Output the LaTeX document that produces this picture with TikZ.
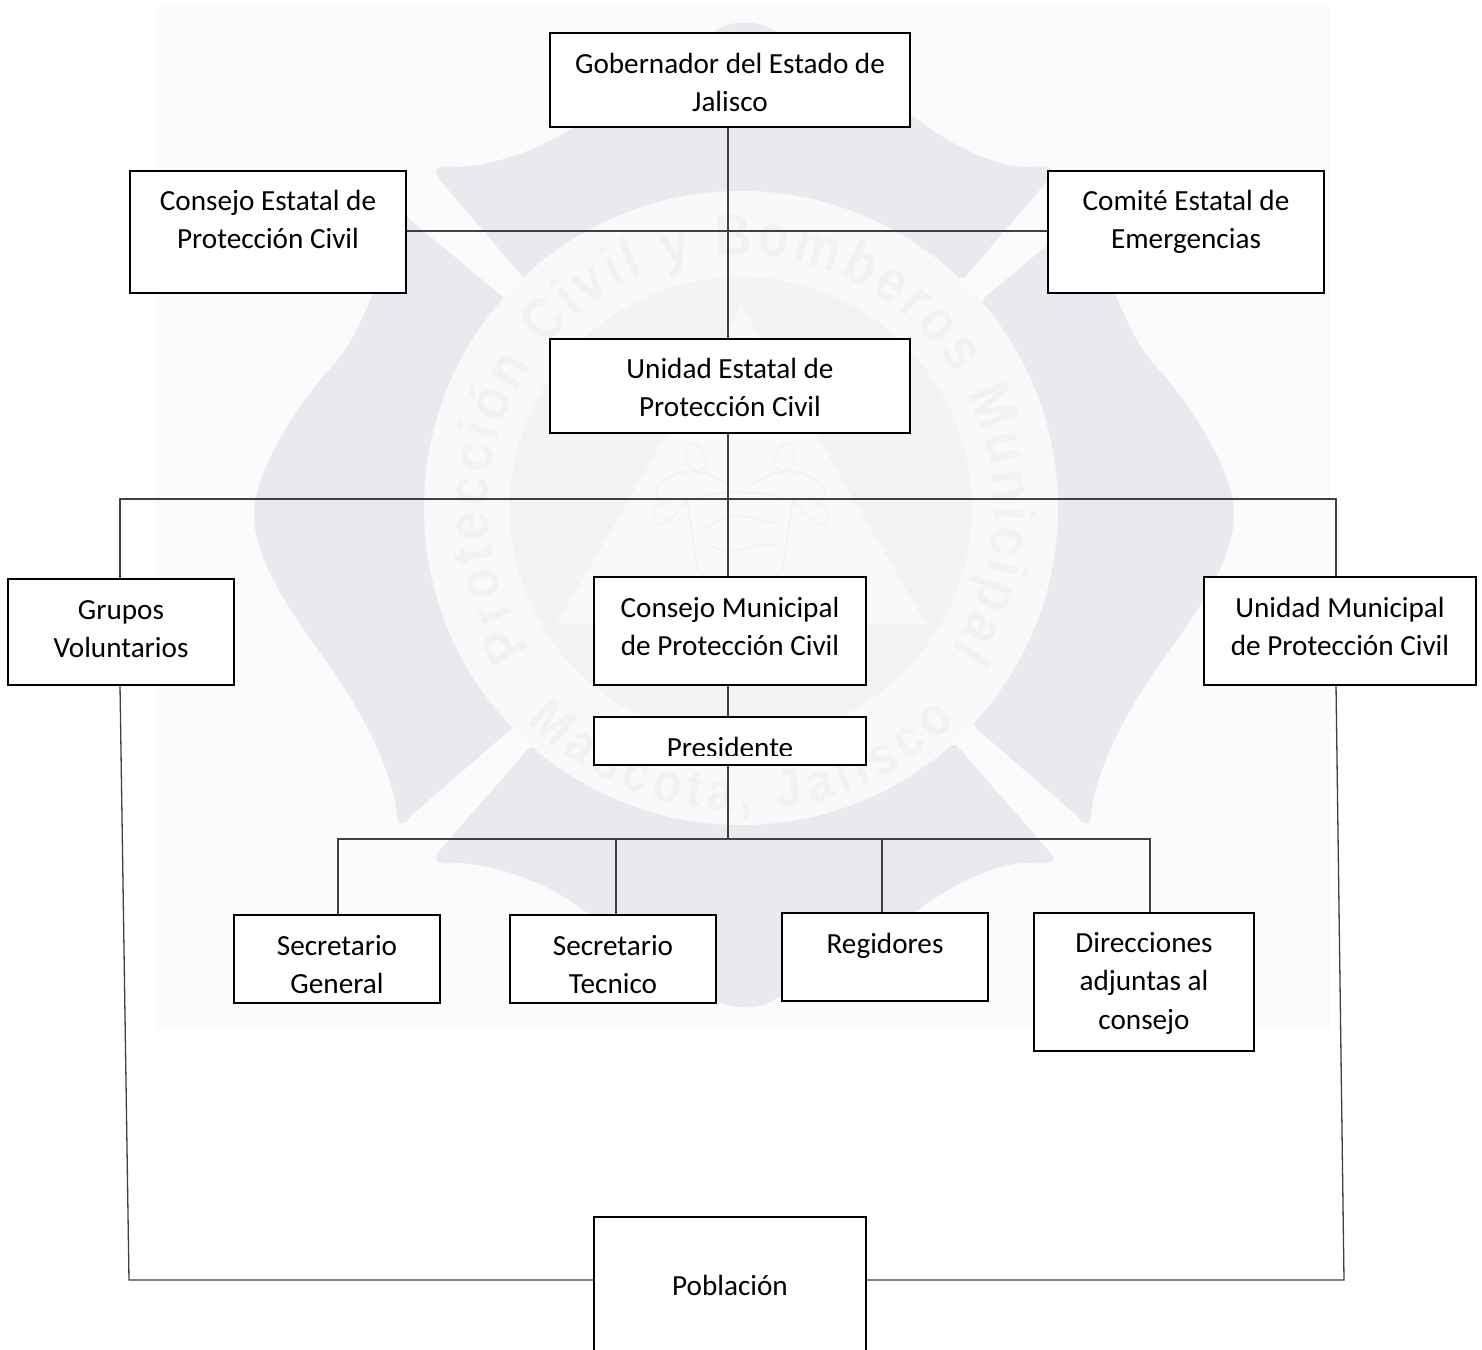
\documentclass[tikz,border=0pt]{standalone}
\usepackage{fontspec}
\setmainfont{Carlito}
\newfontfamily\wmfont{Liberation Sans}[FakeStretch=0.88]
\usetikzlibrary{decorations.text}
\definecolor{wmback}{HTML}{FBFBFB}
\definecolor{wmblue}{HTML}{E9EAF0}
\definecolor{wmring}{HTML}{F9F9FA}
\definecolor{wminner}{HTML}{F3F3F5}
\definecolor{wmtri}{HTML}{F9F9FA}
\definecolor{wmtext}{HTML}{F2F2F4}
\definecolor{wmarms}{HTML}{F2F2F4}
\definecolor{linkgray}{HTML}{404040}
\tikzset{
  orgbox/.style={draw=black,line width=2.2pt,fill=white,rectangle,inner sep=0pt,outer sep=0pt},
  orgtext/.style={font=\fontsize{29.2}{38.5}\selectfont,align=center,inner sep=0pt,text=black},
  link/.style={draw=linkgray,line width=1.3pt},
  blob/.style={fill=wmblue,draw=none}
}
% name, x1, y1, x2, y2, text centre y, text
\newcommand{\orgnode}[7]{%
  \node[orgbox,minimum width=#4pt-#2pt,minimum height=#5pt-#3pt] (#1) at ({(#2+#4)/2},{(#3+#5)/2}) {};
  \node[orgtext] (#1-t) at ({(#2+#4)/2},#6) {\strut #7\strut};
}
\begin{document}
\begin{tikzpicture}[x=1pt,y=-1pt]
\useasboundingbox (0,0) rectangle (1482,1349);
\fill[white] (0,0) rectangle (1482,1349);
% watermark
\fill[wmback] (157,5) rectangle (1330,1030);
% top lobe
\path[blob] (523,277) -- (440,180) .. controls (430,168) and (440,165) .. (458,167)
  .. controls (500,165) and (550,145) .. (579,123)
  .. controls (640,80) and (690,45) .. (722,27)
  .. controls (735,21) and (755,21) .. (768,27)
  .. controls (810,50) and (870,85) .. (922,123)
  .. controls (960,150) and (1000,168) .. (1030,167)
  .. controls (1050,165) and (1060,168) .. (1048,180) -- (965,277) -- cycle;
% left lobe
\path[blob] (503,297) -- (600,514) -- (512,728) -- (412,815)
  .. controls (404,826) and (397,826) .. (397,815)
  .. controls (392,770) and (365,715) .. (323,657)
  .. controls (290,610) and (254,560) .. (254,514)
  .. controls (254,470) and (300,400) .. (336,362)
  .. controls (360,335) and (388,260) .. (397,218)
  .. controls (398,208) and (404,210) .. (409,219) -- cycle;
% right lobe
\path[blob] (985,297) -- (888,514) -- (976,728) -- (1076,815)
  .. controls (1084,826) and (1091,826) .. (1091,815)
  .. controls (1096,770) and (1123,715) .. (1165,657)
  .. controls (1198,610) and (1234,560) .. (1234,514)
  .. controls (1234,470) and (1188,400) .. (1152,362)
  .. controls (1128,335) and (1100,260) .. (1091,218)
  .. controls (1090,208) and (1084,210) .. (1079,219) -- cycle;
% bottom lobe
\path[blob] (529,748) -- (440,850) .. controls (430,862) and (440,865) .. (458,863)
  .. controls (500,865) and (550,885) .. (579,907)
  .. controls (640,950) and (690,985) .. (722,1003)
  .. controls (735,1009) and (755,1009) .. (768,1003)
  .. controls (810,980) and (870,945) .. (922,907)
  .. controls (960,880) and (1000,862) .. (1030,863)
  .. controls (1050,865) and (1060,862) .. (1048,850) -- (956,745) -- cycle;
\fill[wmring] (741,508) circle[radius=317];
\fill[wminner] (741,508) circle[radius=231];
\fill[wmtri] (741,306) -- (557,624) -- (926,624) -- cycle;
% coat of arms, faint
\begin{scope}[draw=wmarms,line width=1.5pt]
  \draw (687,500) -- (697,567) .. controls (705,590) and (775,590) .. (783,567) -- (793,500);
  \draw (693,443) .. controls (680,450) and (685,475) .. (700,470) .. controls (712,465) and (705,448) .. (693,443);
  \draw (787,443) .. controls (800,450) and (795,475) .. (780,470) .. controls (768,465) and (775,448) .. (787,443);
  \draw (660,483) .. controls (680,465) and (710,470) .. (728,485);
  \draw (820,483) .. controls (800,465) and (770,470) .. (752,485);
  \draw (660,483) .. controls (650,500) and (665,505) .. (672,500) .. controls (650,505) and (650,520) .. (660,525) .. controls (672,520) and (680,510) .. (687,500);
  \draw (822,483) .. controls (832,500) and (817,505) .. (810,500) .. controls (832,505) and (832,520) .. (822,525) .. controls (810,520) and (800,510) .. (793,500);
  \draw (687,500) .. controls (710,490) and (770,490) .. (793,500);
  \draw (705,530) .. controls (725,510) and (750,515) .. (780,525);
  \draw (710,545) .. controls (735,560) and (755,540) .. (775,545);
\end{scope}
% ring lettering
\begin{scope}[y=1pt,shift={(741,-508)}]
  \path[decorate,decoration={text along path,text align={fit to path},
    text={|\fontsize{58}{58}\wmfont\bfseries\color{wmtext}|Protección Civil y Bomberos Municipal}}]
    (214:253) arc[start angle=214,end angle=-34,radius=253];
  \path[decorate,decoration={text along path,text align={fit to path},
    text={|\fontsize{54}{54}\wmfont\bfseries\color{wmtext}|Mascota, Jalisco}}]
    (225:303) arc[start angle=225,end angle=315,radius=303];
\end{scope}
% connector free points
\coordinate (busL) at (120,499);
\coordinate (busR) at (1336,499);
\coordinate (lowM) at (728,839);
\coordinate (lowA) at (338,839);
\coordinate (lowB) at (616,839);
\coordinate (lowC) at (882,839);
\coordinate (lowD) at (1150,839);
\coordinate (bendL) at (129,1280);
\coordinate (bendR) at (1344,1280);
\coordinate (gobFoot) at (728,127);
\coordinate (uneTop) at (728,339);
\coordinate (uneFoot) at (728,433);
\coordinate (cmTop) at (728,577);
\coordinate (cmFoot) at (728,685);
\coordinate (prTop) at (728,717);
\coordinate (prFoot) at (728,765);
\coordinate (gvTop) at (120,579);
\coordinate (gvFoot) at (120,685);
\coordinate (umTop) at (1336,577);
\coordinate (umFoot) at (1336,685);
\coordinate (sgTop) at (338,915);
\coordinate (stTop) at (616,915);
\coordinate (rgTop) at (882,913);
\coordinate (daTop) at (1150,913);
\coordinate (ceR) at (406,231);
\coordinate (coL) at (1048,231);
\coordinate (poL) at (594,1280);
\coordinate (poR) at (866,1280);
% connectors
\draw[link] (gobFoot) -- (uneTop);
\draw[link] (ceR) -- (coL);
\draw[link] (uneFoot) -- (cmTop);
\draw[link] (gvTop) -- (busL) -- (busR) -- (umTop);
\draw[link] (cmFoot) -- (prTop);
\draw[link] (prFoot) -- (lowM);
\draw[link] (sgTop) -- (lowA) -- (lowD) -- (daTop);
\draw[link] (lowB) -- (stTop);
\draw[link] (lowC) -- (rgTop);
\draw[link] (gvFoot) -- (bendL) -- (poL);
\draw[link] (umFoot) -- (bendR) -- (poR);
% boxes
\orgnode{gob}{550}{33}{910}{127}{85}{Gobernador del Estado de\\Jalisco}
\orgnode{ce}{130}{171}{406}{293}{222}{Consejo Estatal de\\Protección Civil}
\orgnode{co}{1048}{171}{1324}{293}{222}{Comité Estatal de\\Emergencias}
\orgnode{une}{550}{339}{910}{433}{390}{Unidad Estatal de\\Protección Civil}
\orgnode{gv}{8}{579}{234}{685}{631}{Grupos\\Voluntarios}
\orgnode{cm}{594}{577}{866}{685}{629}{Consejo Municipal\\de Protección Civil}
\orgnode{um}{1204}{577}{1476}{685}{629}{Unidad Municipal\\de Protección Civil}
\node[orgbox,minimum width=272pt,minimum height=48pt] (pr) at (730,741) {};
\begin{scope}
  \clip (594,717) rectangle (866,755);
  \node[orgtext] (pr-t) at (730,750) {\strut Presidente\strut};
\end{scope}
\orgnode{sg}{234}{915}{440}{1003}{967}{Secretario\\General}
\orgnode{st}{510}{915}{716}{1003}{967}{Secretario\\Tecnico}
\orgnode{rg}{782}{913}{988}{1001}{946}{Regidores}
\orgnode{da}{1034}{913}{1254}{1051}{983}{Direcciones\\adjuntas al\\consejo}
\orgnode{po}{594}{1217}{866}{1375}{1288}{Población}
\end{tikzpicture}
\end{document}
